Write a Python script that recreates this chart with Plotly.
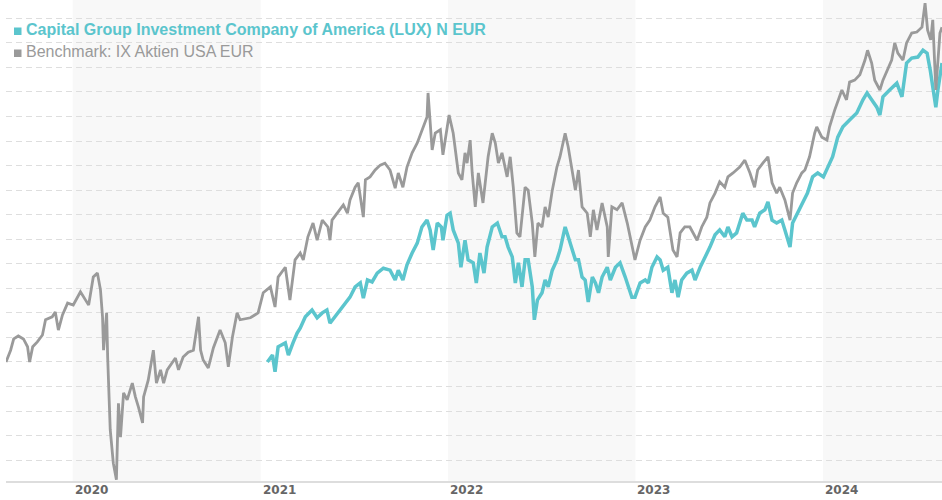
import plotly.graph_objects as go

# ---------------- data (index, both series start at 100) ----------------
bench_dates = [
    "2019-08-24", "2019-09-02", "2019-09-08", "2019-09-17", "2019-09-27", "2019-10-05", "2019-10-09", "2019-10-15",
    "2019-10-24", "2019-11-03", "2019-11-09", "2019-11-22", "2019-11-28", "2019-12-04", "2019-12-12", "2019-12-22",
    "2020-01-02", "2020-01-16", "2020-01-26", "2020-02-01", "2020-02-10", "2020-02-18", "2020-02-24", "2020-02-28",
    "2020-03-01", "2020-03-07", "2020-03-09", "2020-03-14", "2020-03-20", "2020-03-26", "2020-03-30", "2020-04-03",
    "2020-04-09", "2020-04-16", "2020-04-26", "2020-05-02", "2020-05-08", "2020-05-16", "2020-05-18", "2020-05-27",
    "2020-06-06", "2020-06-12", "2020-06-20", "2020-06-26", "2020-07-03", "2020-07-13", "2020-07-19", "2020-07-25",
    "2020-08-03", "2020-08-13", "2020-08-23", "2020-09-02", "2020-09-06", "2020-09-11", "2020-09-21", "2020-10-01",
    "2020-10-14", "2020-10-24", "2020-10-30", "2020-11-07", "2020-11-16", "2020-11-22", "2020-12-12", "2020-12-27",
    "2021-01-06", "2021-01-20", "2021-01-29", "2021-02-04", "2021-02-18", "2021-02-27", "2021-03-09", "2021-03-19",
    "2021-03-25", "2021-04-03", "2021-04-13", "2021-04-21", "2021-05-01", "2021-05-12", "2021-05-16", "2021-05-20",
    "2021-05-30", "2021-06-11", "2021-06-19", "2021-06-24", "2021-07-04", "2021-07-10", "2021-07-20", "2021-07-24",
    "2021-08-02", "2021-08-12", "2021-08-22", "2021-08-31", "2021-09-10", "2021-09-20", "2021-09-26", "2021-10-05",
    "2021-10-13", "2021-10-23", "2021-11-02", "2021-11-11", "2021-11-21", "2021-11-23", "2021-12-01", "2021-12-07",
    "2021-12-17", "2021-12-22", "2022-01-03", "2022-01-11", "2022-01-21", "2022-01-28", "2022-02-03", "2022-02-07",
    "2022-02-13", "2022-02-17", "2022-02-23", "2022-03-01", "2022-03-10", "2022-03-20", "2022-03-28", "2022-04-03",
    "2022-04-09", "2022-04-16", "2022-04-26", "2022-05-02", "2022-05-08", "2022-05-15", "2022-05-21", "2022-05-31",
    "2022-06-06", "2022-06-14", "2022-06-19", "2022-06-25", "2022-07-03", "2022-07-09", "2022-07-15", "2022-07-23",
    "2022-08-01", "2022-08-07", "2022-08-17", "2022-08-23", "2022-08-31", "2022-09-06", "2022-09-12", "2022-09-19",
    "2022-09-29", "2022-10-05", "2022-10-11", "2022-10-18", "2022-10-28", "2022-11-07", "2022-11-09", "2022-11-16",
    "2022-11-26", "2022-12-06", "2022-12-16", "2022-12-25", "2022-12-31", "2023-01-10", "2023-01-20", "2023-01-29",
    "2023-02-08", "2023-02-18", "2023-02-24", "2023-03-05", "2023-03-15", "2023-03-23", "2023-03-29", "2023-04-07",
    "2023-04-17", "2023-05-01", "2023-05-10", "2023-05-20", "2023-05-26", "2023-06-05", "2023-06-14", "2023-06-24",
    "2023-06-30", "2023-07-10", "2023-07-23", "2023-08-02", "2023-08-12", "2023-08-21", "2023-08-27", "2023-09-06",
    "2023-09-16", "2023-09-24", "2023-10-03", "2023-10-09", "2023-10-19", "2023-10-29", "2023-11-03", "2023-11-11",
    "2023-11-21", "2023-11-27", "2023-12-06", "2023-12-16", "2023-12-20", "2023-12-30", "2024-01-09", "2024-01-14",
    "2024-01-24", "2024-02-07", "2024-02-16", "2024-02-22", "2024-03-03", "2024-03-13", "2024-03-23", "2024-03-28",
    "2024-04-05", "2024-04-11", "2024-04-21", "2024-04-27", "2024-05-06", "2024-05-14", "2024-05-20", "2024-05-26",
    "2024-06-05", "2024-06-12", "2024-06-22", "2024-07-02", "2024-07-12", "2024-07-18", "2024-07-23", "2024-07-29",
    "2024-08-02", "2024-08-08", "2024-08-16", "2024-08-20",
]
bench_values = [
    100.0, 102.4, 104.7, 105.3, 104.7, 103.1, 100.0, 103.1,
    104.1, 105.5, 108.6, 109.2, 110.2, 106.5, 109.6, 112.0,
    111.6, 114.3, 112.6, 111.6, 117.3, 118.1, 114.7, 109.2,
    102.4, 110.0, 101.0, 86.2, 79.4, 76.0, 91.6, 84.7,
    93.7, 92.3, 95.7, 92.9, 90.8, 87.6, 92.9, 96.3,
    102.4, 95.7, 98.4, 95.7, 98.4, 99.8, 100.8, 98.4,
    101.0, 102.0, 102.4, 109.2, 102.4, 100.4, 98.8, 102.9,
    106.5, 103.9, 99.0, 105.1, 110.0, 108.6, 109.0, 110.0,
    114.1, 115.3, 111.2, 117.3, 119.3, 112.6, 120.8, 122.2,
    120.8, 125.5, 128.3, 124.8, 128.9, 127.5, 124.8, 128.9,
    130.3, 132.0, 130.3, 133.0, 135.6, 136.5, 129.5, 137.1,
    137.7, 139.1, 140.1, 140.5, 139.1, 135.4, 138.5, 135.6,
    139.7, 142.6, 144.6, 147.3, 149.9, 154.8, 143.2, 146.6,
    147.3, 142.2, 150.3, 146.6, 138.5, 137.1, 142.6, 140.5,
    145.2, 138.5, 131.6, 138.5, 132.4, 141.8, 146.6, 144.6,
    140.5, 142.6, 137.7, 141.8, 135.6, 126.3, 125.5, 135.6,
    135.0, 128.3, 121.4, 128.3, 127.5, 131.6, 129.5, 135.0,
    139.7, 141.8, 146.6, 143.8, 138.5, 135.0, 139.1, 131.6,
    130.3, 125.5, 131.0, 126.9, 132.4, 127.5, 121.4, 131.6,
    131.0, 132.4, 128.3, 123.4, 120.8, 124.8, 127.5, 128.9,
    131.6, 133.6, 130.3, 129.5, 122.8, 121.4, 126.3, 127.5,
    127.5, 124.8, 127.5, 129.5, 132.4, 134.4, 136.7, 135.6,
    137.7, 138.5, 139.7, 141.1, 138.5, 135.6, 139.1, 140.5,
    141.8, 136.5, 134.4, 135.6, 133.0, 128.9, 134.4, 136.5,
    138.5, 139.1, 141.8, 146.6, 147.9, 145.8, 145.2, 147.9,
    151.3, 155.4, 153.4, 157.0, 157.4, 158.5, 161.5, 163.5,
    160.9, 157.4, 155.4, 157.4, 159.5, 161.5, 165.0, 162.9,
    161.5, 165.0, 167.0, 167.2, 168.2, 173.1, 167.6, 165.6,
    169.7, 155.4, 167.0, 168.2,
]

fund_dates = [
    "2021-01-14", "2021-01-24", "2021-01-29", "2021-02-04", "2021-02-18", "2021-02-24", "2021-03-05", "2021-03-13",
    "2021-03-19", "2021-03-29", "2021-04-11", "2021-04-21", "2021-05-01", "2021-05-10", "2021-05-16", "2021-05-26",
    "2021-06-05", "2021-06-15", "2021-06-24", "2021-07-04", "2021-07-14", "2021-07-20", "2021-07-28", "2021-08-06",
    "2021-08-16", "2021-08-28", "2021-09-10", "2021-09-20", "2021-09-26", "2021-10-05", "2021-10-13", "2021-10-23",
    "2021-11-02", "2021-11-11", "2021-11-21", "2021-11-27", "2021-12-03", "2021-12-11", "2021-12-19", "2021-12-22",
    "2021-12-30", "2022-01-05", "2022-01-11", "2022-01-21", "2022-01-26", "2022-02-03", "2022-02-09", "2022-02-19",
    "2022-02-25", "2022-03-04", "2022-03-12", "2022-03-18", "2022-03-28", "2022-04-07", "2022-04-16", "2022-04-22",
    "2022-04-28", "2022-05-06", "2022-05-12", "2022-05-18", "2022-05-25", "2022-05-31", "2022-06-06", "2022-06-14",
    "2022-06-18", "2022-06-24", "2022-07-03", "2022-07-09", "2022-07-15", "2022-07-23", "2022-08-01", "2022-08-07",
    "2022-08-17", "2022-08-23", "2022-08-31", "2022-09-06", "2022-09-12", "2022-09-19", "2022-09-25", "2022-10-01",
    "2022-10-09", "2022-10-15", "2022-10-21", "2022-10-28", "2022-11-07", "2022-11-13", "2022-11-23", "2022-12-02",
    "2022-12-12", "2022-12-18", "2022-12-25", "2022-12-31", "2023-01-10", "2023-01-20", "2023-01-26", "2023-02-02",
    "2023-02-12", "2023-02-18", "2023-02-24", "2023-03-05", "2023-03-13", "2023-03-19", "2023-03-25", "2023-04-01",
    "2023-04-11", "2023-04-21", "2023-04-27", "2023-05-07", "2023-05-16", "2023-05-26", "2023-06-05", "2023-06-14",
    "2023-06-24", "2023-06-30", "2023-07-08", "2023-07-17", "2023-07-29", "2023-08-06", "2023-08-16", "2023-08-21",
    "2023-08-31", "2023-09-10", "2023-09-16", "2023-09-24", "2023-10-03", "2023-10-13", "2023-10-19", "2023-10-29",
    "2023-11-03", "2023-11-13", "2023-11-23", "2023-12-02", "2023-12-12", "2023-12-22", "2024-01-02", "2024-01-10",
    "2024-01-20", "2024-01-30", "2024-02-09", "2024-02-22", "2024-03-07", "2024-03-19", "2024-03-27", "2024-04-05",
    "2024-04-15", "2024-04-21", "2024-04-27", "2024-05-10", "2024-05-24", "2024-06-03", "2024-06-12", "2024-06-22",
    "2024-07-04", "2024-07-14", "2024-07-22", "2024-07-28", "2024-08-02", "2024-08-08", "2024-08-12", "2024-08-20",
]
fund_values = [
    100.0, 101.4, 98.0, 103.1, 103.9, 101.4, 103.9, 105.9,
    106.9, 109.2, 110.6, 109.0, 110.0, 110.6, 107.9, 109.2,
    110.6, 112.0, 113.2, 115.3, 116.1, 113.0, 116.7, 116.3,
    118.1, 119.1, 118.7, 116.7, 118.7, 116.7, 119.8, 122.2,
    124.2, 127.5, 128.9, 126.9, 122.8, 128.3, 127.5, 124.8,
    129.9, 130.3, 126.9, 124.2, 119.3, 124.8, 120.8, 120.2,
    116.1, 122.2, 118.1, 123.4, 127.5, 128.3, 125.5, 125.5,
    123.4, 121.4, 116.1, 120.2, 115.3, 120.8, 120.8, 115.3,
    108.6, 112.6, 114.1, 116.7, 115.3, 118.7, 120.8, 122.8,
    127.5, 125.5, 122.8, 120.8, 120.8, 117.3, 116.7, 112.2,
    117.3, 116.1, 114.1, 117.3, 119.3, 116.7, 119.3, 120.2,
    117.3, 115.3, 113.2, 113.2, 116.1, 116.7, 116.1, 119.3,
    121.4, 120.8, 118.7, 119.3, 114.1, 116.7, 113.2, 116.7,
    118.1, 118.7, 116.7, 119.3, 121.2, 123.4, 125.9, 126.9,
    125.5, 127.5, 125.5, 126.3, 130.3, 128.9, 128.9, 127.5,
    130.3, 131.0, 132.6, 128.9, 128.3, 128.9, 126.9, 123.4,
    128.3, 130.3, 132.4, 134.4, 137.7, 138.5, 137.7, 139.7,
    141.8, 145.8, 147.9, 149.3, 150.7, 153.4, 154.8, 153.4,
    151.9, 150.3, 154.0, 155.4, 156.8, 154.0, 160.9, 161.9,
    162.1, 163.5, 162.9, 159.5, 156.0, 151.9, 155.4, 160.9,
]

fund_name = "Capital Group Investment Company of America (LUX) N EUR"
bench_name = "Benchmark: IX Aktien USA EUR"
year_labels = ["2020", "2021", "2022", "2023", "2024"]
shaded_years = ["2020", "2022", "2024"]
x_range = ["2019-08-24", "2024-08-20"]
y_range = [75.76, 173.73]

TEAL = "#5bc5cd"
GREY = "#9a9a9a"

fig = go.Figure()
fig.add_trace(go.Scatter(x=fund_dates, y=fund_values, mode="lines", name=fund_name,
                         line=dict(color=TEAL, width=3.5), hoverinfo="skip"))
fig.add_trace(go.Scatter(x=bench_dates, y=bench_values, mode="lines", name=bench_name,
                         line=dict(color=GREY, width=2.8), hoverinfo="skip"))

shapes = []
for yr in shaded_years:
    end = f"{int(yr) + 1}-01-01"
    if end > x_range[1]:
        end = x_range[1]
    shapes.append(dict(type="rect", xref="x", yref="paper", x0=f"{yr}-01-01", x1=end,
                       y0=0, y1=1, fillcolor="#f8f8f8", line=dict(width=0), layer="below"))

W_PLOT = 936.0
H_PLOT = 481.0
L = 6


def px(xp):
    return (xp - L) / W_PLOT


def py(yp):
    return (H_PLOT - yp) / H_PLOT


# legend squares
shapes.append(dict(type="rect", xref="paper", yref="paper", x0=px(14), x1=px(21.5),
                   y0=py(35), y1=py(27.5), fillcolor=TEAL, line=dict(width=0), layer="above"))
shapes.append(dict(type="rect", xref="paper", yref="paper", x0=px(14), x1=px(21.5),
                   y0=py(57), y1=py(49.5), fillcolor=GREY, line=dict(width=0), layer="above"))

annotations = [
    dict(text=f"<b>{fund_name}</b>", xref="paper", yref="paper", x=px(24), y=py(29.8),
         xanchor="left", yanchor="middle", showarrow=False,
         font=dict(family="Liberation Sans, Arial, sans-serif", size=16, color=TEAL)),
    dict(text=bench_name, xref="paper", yref="paper", x=px(24), y=py(51.8),
         xanchor="left", yanchor="middle", showarrow=False,
         font=dict(family="Liberation Sans, Arial, sans-serif", size=16, color=GREY)),
]
for yl in year_labels:
    annotations.append(dict(text=yl, xref="x", yref="paper", x=f"{yl}-01-01", y=0,
                            xanchor="left", yanchor="top", showarrow=False, yshift=0,
                            font=dict(family="DejaVu Sans", size=12, color="#666666", weight="bold")))

fig.update_layout(
    width=942, height=500,
    margin=dict(l=L, r=0, t=0, b=19),
    paper_bgcolor="white", plot_bgcolor="white",
    showlegend=False,
    shapes=shapes,
    annotations=annotations,
    xaxis=dict(type="date", range=x_range, showgrid=False, showticklabels=False, ticks="",
               showline=True, linecolor="#dddddd", linewidth=2, zeroline=False, fixedrange=True),
    yaxis=dict(range=y_range, showticklabels=False, ticks="", showgrid=True, gridcolor="#dedede",
               gridwidth=1, griddash="6px,4px", tick0=100, dtick=5, zeroline=False, showline=False,
               fixedrange=True),
)

fig.write_html("out.html", include_plotlyjs=True, config={"displayModeBar": False})
